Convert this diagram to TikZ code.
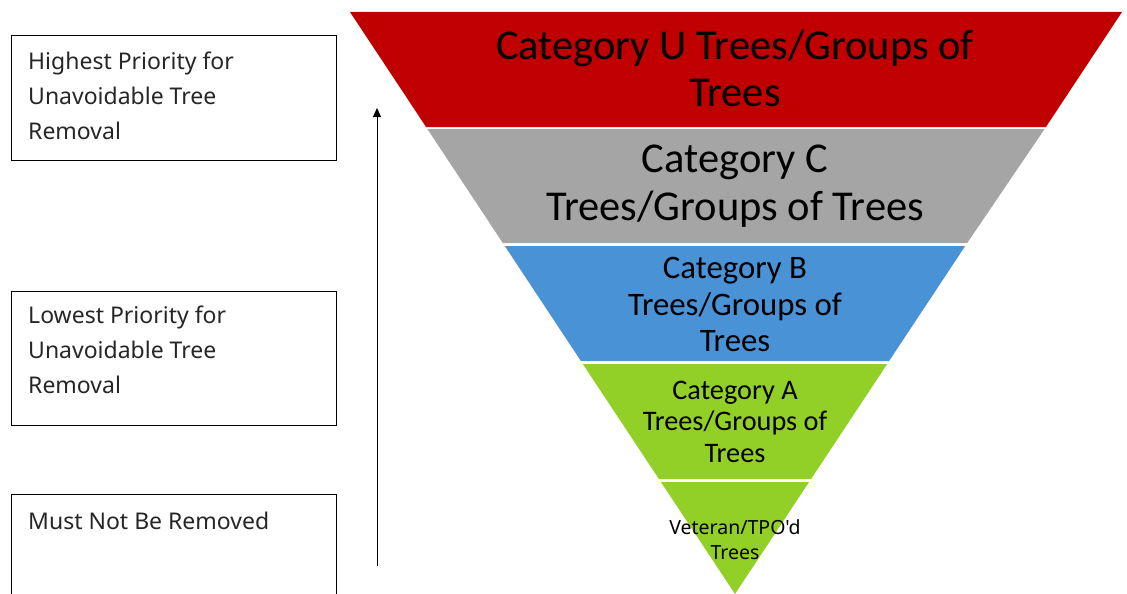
\documentclass[tikz,border=0pt]{standalone}
\usepackage{fontspec}
\setmainfont{Carlito}
\newfontfamily\boxfont{Noto Sans}
\usetikzlibrary{arrows.meta}
\definecolor{catU}{RGB}{192,0,0}
\definecolor{catC}{RGB}{165,165,165}
\definecolor{catB}{RGB}{74,146,214}
\definecolor{catA}{RGB}{146,208,40}
\begin{document}
\begin{tikzpicture}[x=1pt,y=-1pt,
  bandtext/.style={align=center,text=black,inner sep=0pt},
  sidetext/.style={align=left,anchor=north west,inner sep=0pt,font=\boxfont\fontsize{23}{35}\selectfont,text=black!85}]
\useasboundingbox (0,0) rectangle (1127,594);
% bands
\fill[catU] (350,12) -- (1122,12) -- (1045.9,127) -- (426.1,127) -- cycle;
\fill[catC] (427.4,129) -- (1044.6,129) -- (967.2,243) -- (502.8,243) -- cycle;
\fill[catB] (504.8,246) -- (965.2,246) -- (889.1,361) -- (580.9,361) -- cycle;
\fill[catA] (582.8,364) -- (887.2,364) -- (811.1,479) -- (658.9,479) -- cycle;
\fill[catA] (660.9,482) -- (809.1,482) -- (735,594) -- cycle;
% band texts
\node[bandtext,font=\fontsize{42.5}{47}\selectfont] (tU) at (735,68.5) {Category U Trees/Groups of\\Trees};
\node[bandtext,font=\fontsize{42.5}{48}\selectfont] (tC) at (735,186) {Category C\\Trees/Groups of Trees};
\node[bandtext,font=\fontsize{32.8}{36.5}\selectfont] (tB) at (735,304.5) {Category B\\Trees/Groups of\\Trees};
\node[bandtext,font=\fontsize{28.3}{31.5}\selectfont] (tA) at (735,421.5) {Category A\\Trees/Groups of\\Trees};
\node[bandtext,font=\boxfont\fontsize{19.5}{25}\selectfont] (tV) at (735,539.5) {Veteran/TPO'd\\Trees};
% side boxes
\draw[line width=0.8pt] (11,35) rectangle (336,160);
\draw[line width=0.8pt] (11,291) rectangle (336,425);
\draw[line width=0.8pt] (336,600) -- (336,494) -- (11,494) -- (11,600);
\node[sidetext] (h) at (28,51.5) {Highest Priority for\\Unavoidable Tree\\Removal};
\node[sidetext] (l) at (28,305.5) {Lowest Priority for\\Unavoidable Tree\\Removal};
\node[sidetext] (m) at (28,511.5) {Must Not Be Removed};
% arrow
\coordinate (a0) at (377,566);
\coordinate (a1) at (377,108);
\draw[line width=0.9pt,-{Triangle[length=9pt,width=8pt]}] (a0) -- (a1);
\end{tikzpicture}
\end{document}
